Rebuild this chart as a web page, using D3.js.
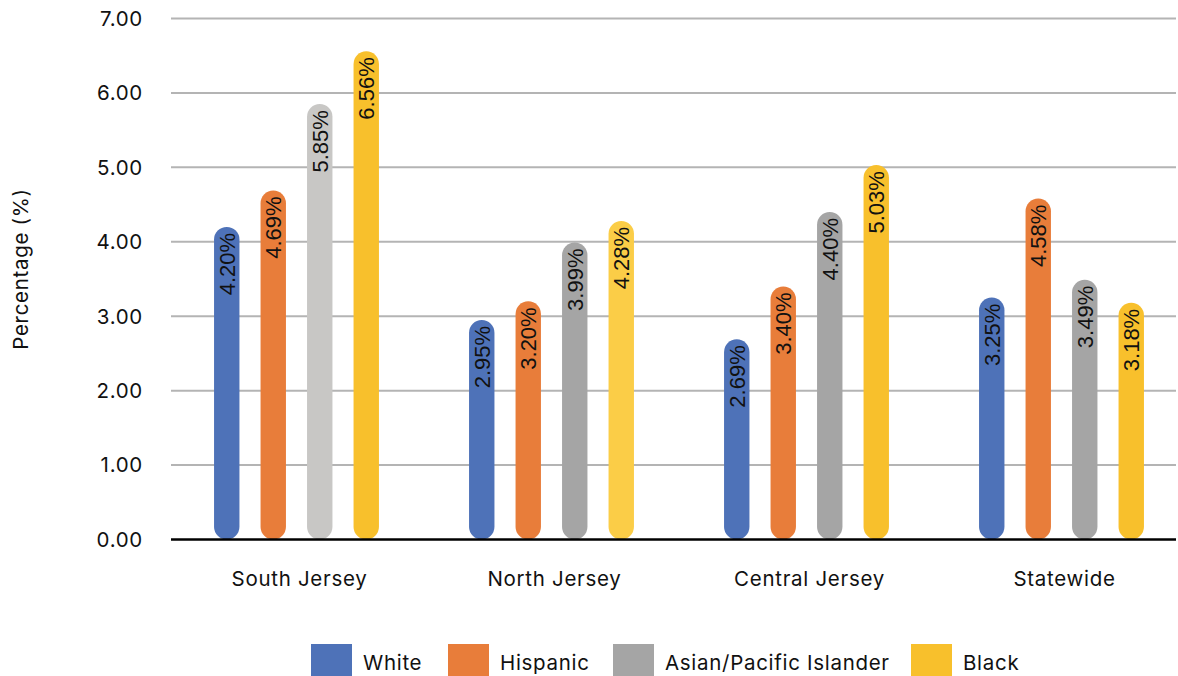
<!DOCTYPE html>
<html>
<head>
<meta charset="utf-8">
<script src="https://cdn.jsdelivr.net/npm/d3@7"></script>
<style>
    body { margin: 0; background: #fff; }
    svg { display: block; }
    .tick-label, .cat-label, .legend-label, .axis-title {
        font-family: Inter, "Open Sans", sans-serif;
        fill: #111;
        letter-spacing: 0.7px;
    }
    .value-label {
        font-family: "Liberation Sans", Arial, sans-serif;
        fill: #111;
    }
</style>
</head>
<body>
<div id="chart"></div>
<script>
var regions = ['South Jersey', 'North Jersey', 'Central Jersey', 'Statewide'];
var groups = ['White', 'Hispanic', 'Asian/Pacific Islander', 'Black'];
var white = [4.20, 2.95, 2.69, 3.25];
var hispanic = [4.69, 3.20, 3.40, 4.58];
var asian = [5.85, 3.99, 4.40, 3.49];
var black = [6.56, 4.28, 5.03, 3.18];
var y_ticks = [0, 1, 2, 3, 4, 5, 6, 7];

var WIDTH = 1178, HEIGHT = 676;
var BAR_WIDTH = 25.4;
var GRID_LEFT = 171, GRID_RIGHT = 1176;

var colors = {
    'White': '#4e72b8',
    'Hispanic': '#e87d3a',
    'Asian/Pacific Islander': '#a5a5a5',
    'Black': '#f8c02c'
};
// a couple of bars are drawn in a lighter tint in the original
var tint = {
    'South Jersey|Asian/Pacific Islander': '#c8c7c5',
    'North Jersey|Black': '#fbcd47'
};

var series = [white, hispanic, asian, black];
var data = [];
regions.forEach(function(r, i) {
    groups.forEach(function(g, j) {
        data.push({region: r, group: g, value: series[j][i]});
    });
});

var svg = d3.select('#chart').append('svg')
    .attr('width', WIDTH)
    .attr('height', HEIGHT);

var scale_y = d3.scaleLinear().domain([0, 7]).range([539.5, 18.5]);
var scale_x0 = d3.scaleBand().domain(regions).range([169, 1189]);
var scale_x1 = d3.scaleBand().domain(groups).range([-93, 93]);

// gridlines + tick labels
var grid = svg.append('g').attr('id', 'grid');
grid.selectAll('line')
    .data(y_ticks.filter(function(d) { return d > 0; }))
    .enter().append('line')
    .attr('x1', GRID_LEFT)
    .attr('x2', GRID_RIGHT)
    .attr('y1', function(d) { return scale_y(d); })
    .attr('y2', function(d) { return scale_y(d); })
    .attr('stroke', '#b4b4b4')
    .attr('stroke-width', 2);

svg.append('g').selectAll('text')
    .data(y_ticks)
    .enter().append('text')
    .attr('class', 'tick-label')
    .attr('x', 143)
    .attr('y', function(d) { return scale_y(d); })
    .attr('dy', '0.36em')
    .attr('text-anchor', 'end')
    .style('font-size', '20.5px')
    .text(function(d) { return d.toFixed(2); });

svg.append('text')
    .attr('class', 'axis-title')
    .attr('transform', 'translate(28,269) rotate(-90)')
    .attr('text-anchor', 'middle')
    .style('font-size', '20.5px')
    .text('Percentage (%)');

// bars as pills from 0 up to the value
var bars = svg.append('g').attr('id', 'bars')
    .selectAll('g')
    .data(data)
    .enter().append('g')
    .attr('transform', function(d) {
        var cx = scale_x0(d.region) + scale_x0.bandwidth() / 2 +
            scale_x1(d.group) + scale_x1.bandwidth() / 2;
        return 'translate(' + cx + ',0)';
    });

bars.append('rect')
    .attr('x', -BAR_WIDTH / 2)
    .attr('width', BAR_WIDTH)
    .attr('y', function(d) { return scale_y(d.value); })
    .attr('height', function(d) { return scale_y(0) - scale_y(d.value); })
    .attr('rx', BAR_WIDTH / 2)
    .attr('fill', function(d) {
        return tint[d.region + '|' + d.group] || colors[d.group];
    });

bars.append('text')
    .attr('class', 'value-label')
    .attr('transform', function(d) {
        return 'translate(0,' + (scale_y(d.value) + 6) + ') rotate(-90)';
    })
    .attr('text-anchor', 'end')
    .attr('dy', '0.36em')
    .style('font-size', '22px')
    .text(function(d) { return d.value.toFixed(2) + '%'; });

// baseline
svg.append('line')
    .attr('x1', GRID_LEFT)
    .attr('x2', GRID_RIGHT)
    .attr('y1', scale_y(0))
    .attr('y2', scale_y(0))
    .attr('stroke', '#000')
    .attr('stroke-width', 2.5);

svg.append('g').selectAll('text')
    .data(regions)
    .enter().append('text')
    .attr('class', 'cat-label')
    .attr('x', function(d) { return scale_x0(d) + scale_x0.bandwidth() / 2 + 3; })
    .attr('y', 586)
    .attr('text-anchor', 'middle')
    .style('font-size', '20.5px')
    .text(function(d) { return d; });

// legend
var legend_x = [311, 448, 613, 911];
var legend = svg.append('g').attr('id', 'legend')
    .selectAll('g')
    .data(groups)
    .enter().append('g')
    .attr('transform', function(d, i) { return 'translate(' + legend_x[i] + ',644)'; });
legend.append('rect')
    .attr('width', 41)
    .attr('height', 41)
    .attr('fill', function(d) { return colors[d]; });
legend.append('text')
    .attr('class', 'legend-label')
    .attr('x', 52)
    .attr('y', 26)
    .style('font-size', '20.5px')
    .text(function(d) { return d; });
</script>
</body>
</html>
